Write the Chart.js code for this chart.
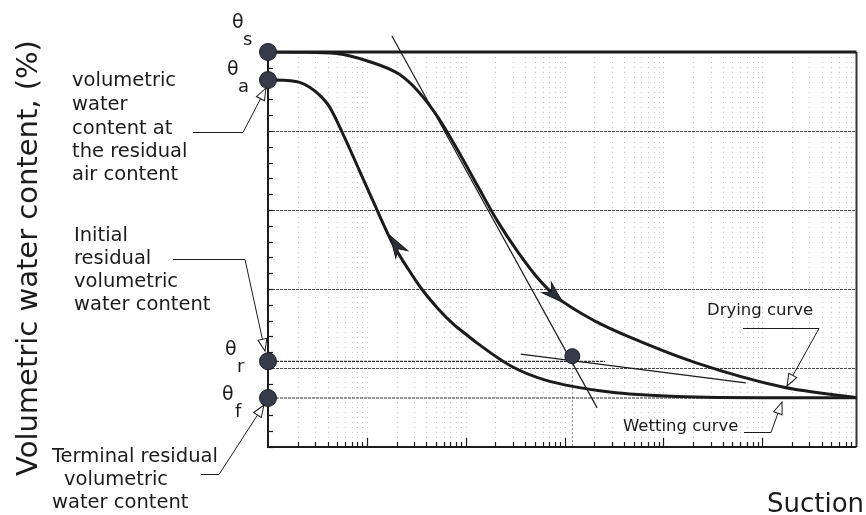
<!DOCTYPE html>
<html>
<head>
<meta charset="utf-8">
<script src="https://cdn.jsdelivr.net/npm/chart.js@4.4.0/dist/chart.umd.min.js"></script>
<style>
  body { margin: 0; background: #fff; }
  #wrap { width: 866px; height: 515px; }
</style>
</head>
<body>
<div id="wrap"><canvas id="swcc" width="866" height="515"></canvas></div>
<script>
// suction (log scale) vs volumetric water content (%)
const suctionDrying = [1, 2.09, 4.92, 10.5, 21.1, 33.5, 53.1, 84.3, 134, 212, 337, 535, 849, 2138, 4580, 21500, 161000, 900000];
const thetaDrying   = [100, 99.95, 99.6, 97.6, 94.4, 89.9, 83.3, 74.9, 65.8, 57.0, 49.4, 42.8, 37.8, 31.6, 27.8, 21.3, 15.2, 12.5];

const suctionWetting = [1, 1.55, 2.09, 2.64, 3.32, 4.19, 5.65, 8.37, 11.3, 17.9, 26.6, 35.9, 53.1, 75.1, 106, 134, 287, 629, 2884, 13600, 146000, 900000];
const thetaWetting   = [92.9, 92.8, 92.3, 91.1, 89.1, 86.1, 79.6, 70.1, 62.8, 51.9, 44.8, 40.0, 34.9, 31.1, 28.1, 26.1, 20.5, 17.0, 13.9, 12.8, 12.5, 12.5];

// characteristic water contents on the axis: theta_s, theta_a, theta_r, theta_f
const keyNames = ['s', 'a', 'r', 'f'];
const keyTheta = [100, 92.9, 21.7, 12.4];

// construction lines
const steepSuction = [17.9, 2140];
const steepTheta   = [104.1, 9.9];
const flatSuction  = [361, 68300];
const flatTheta    = [23.5, 16.25];
const inflectSuction = [1200];
const inflectTheta   = [23.0];
const residualLineSuction = [1, 2570];
const terminalLineSuction = [1, 900000];

// direction arrows on the curves: [tail, tip] in (suction, theta)
const dryArrow = [[560, 42.0], [960, 36.6]];
const wetArrow = [[25.5, 46.6], [17.2, 53.5]];

const xMin = 1, xMax = 900000;
const yTicks = [];
for (let v = 0; v <= 100; v += 4) yTicks.push(v);

const pts = (xs, ys) => xs.map((x, i) => ({ x: x, y: ys[i] }));
const ink = '#1b1b1b';
const font = '"DejaVu Sans", Verdana, sans-serif';

function arrowHead(ctx, fx, fy, tx, ty, len, half, filled) {
  const a = Math.atan2(ty - fy, tx - fx);
  ctx.save();
  ctx.translate(tx, ty);
  ctx.rotate(a);
  ctx.beginPath();
  ctx.moveTo(0, 0);
  ctx.lineTo(-len, -half);
  if (filled) ctx.lineTo(-len * 0.7, 0);
  ctx.lineTo(-len, half);
  ctx.closePath();
  if (filled) {
    ctx.fillStyle = '#2b2f3a';
    ctx.fill();
    ctx.lineWidth = 1;
    ctx.strokeStyle = ink;
    ctx.stroke();
  } else {
    ctx.fillStyle = '#fff';
    ctx.fill();
    ctx.lineWidth = 1;
    ctx.strokeStyle = ink;
    ctx.stroke();
  }
  ctx.restore();
}

const framePlugin = {
  id: 'frame',
  beforeDatasetsDraw(chart) {
    const { ctx, chartArea: ca, scales: { x, y } } = chart;
    ctx.save();
    // dotted vertical grid on every log step
    ctx.strokeStyle = '#c8c8c8';
    ctx.lineWidth = 1;
    ctx.setLineDash([1, 4]);
    for (let d = 0; d <= 6; d++) {
      for (let m = 1; m <= 9; m++) {
        const v = m * Math.pow(10, d);
        if (v <= xMin || v >= xMax) continue;
        const px = Math.round(x.getPixelForValue(v)) + 0.5;
        ctx.beginPath();
        ctx.moveTo(px, ca.top);
        ctx.lineTo(px, ca.bottom);
        ctx.stroke();
      }
    }
    // horizontal grid every 20 %
    ctx.strokeStyle = '#4a4a4a';
    ctx.setLineDash([3, 1]);
    yTicks.filter(v => v % 20 === 0 && v > 0 && v < 100).forEach(v => {
      const py = Math.round(y.getPixelForValue(v)) + 0.5;
      ctx.beginPath();
      ctx.moveTo(ca.left, py);
      ctx.lineTo(ca.right, py);
      ctx.stroke();
    });
    ctx.setLineDash([]);
    // inward ticks
    ctx.strokeStyle = ink;
    ctx.lineWidth = 1.2;
    yTicks.forEach(v => {
      const py = Math.round(y.getPixelForValue(v)) + 0.5;
      ctx.beginPath();
      ctx.moveTo(ca.left, py);
      ctx.lineTo(ca.left + 5, py);
      ctx.stroke();
    });
    for (let d = 0; d <= 6; d++) {
      for (let m = 1; m <= 9; m++) {
        const v = m * Math.pow(10, d);
        if (v <= xMin || v >= xMax) continue;
        const px = Math.round(x.getPixelForValue(v)) + 0.5;
        ctx.beginPath();
        ctx.moveTo(px, ca.bottom);
        ctx.lineTo(px, ca.bottom - (m === 1 ? 9 : 5));
        ctx.stroke();
      }
    }
    // frame
    ctx.lineWidth = 2;
    ctx.strokeStyle = '#333';
    ctx.beginPath();
    ctx.moveTo(ca.right, ca.top);
    ctx.lineTo(ca.right, ca.bottom);
    ctx.stroke();
    ctx.strokeStyle = ink;
    ctx.beginPath();
    ctx.moveTo(ca.left, ca.top);
    ctx.lineTo(ca.left, ca.bottom);
    ctx.lineTo(ca.right, ca.bottom);
    ctx.stroke();
    ctx.lineWidth = 3;
    ctx.beginPath();
    ctx.moveTo(ca.left, ca.top);
    ctx.lineTo(ca.right, ca.top);
    ctx.stroke();
    ctx.restore();
  },
  afterDatasetsDraw(chart) {
    const { ctx, scales: { x, y } } = chart;
    ctx.save();
    [dryArrow, wetArrow].forEach(a => {
      arrowHead(ctx, x.getPixelForValue(a[0][0]), y.getPixelForValue(a[0][1]),
        x.getPixelForValue(a[1][0]), y.getPixelForValue(a[1][1]), 22, 7, true);
    });

    // leader lines with open arrow heads
    const leaders = [
      [[193, 132], [243, 132], [266, 88]],
      [[173, 259], [245, 259], [265, 351]],
      [[201, 474], [219, 474], [264, 405]],
      [[743, 328], [819, 328], [787, 386]],
      [[744, 432], [771, 432], [782, 402]]
    ];
    ctx.strokeStyle = ink;
    ctx.lineWidth = 1;
    leaders.forEach(p => {
      ctx.beginPath();
      ctx.moveTo(p[0][0], p[0][1] + 0.5);
      ctx.lineTo(p[1][0], p[1][1] + 0.5);
      ctx.lineTo(p[2][0], p[2][1]);
      ctx.stroke();
      arrowHead(ctx, p[1][0], p[1][1], p[2][0], p[2][1], 12, 4.5, false);
    });

    ctx.fillStyle = ink;
    ctx.textBaseline = 'alphabetic';
    ctx.textAlign = 'left';
    ctx.font = '19.5px ' + font;
    const blocks = [
      { x: [72, 72, 72, 72, 72], y: [86, 110, 134, 157, 180],
        t: ['volumetric', 'water', 'content at', 'the residual', 'air content'] },
      { x: [74, 74, 74, 74], y: [241, 264, 287, 310],
        t: ['Initial', 'residual', 'volumetric', 'water content'] },
      { x: [52, 64, 52], y: [462, 485, 508],
        t: ['Terminal residual', 'volumetric', 'water content'] }
    ];
    blocks.forEach(b => b.t.forEach((s, i) => ctx.fillText(s, b.x[i], b.y[i])));

    ctx.font = '16.5px ' + font;
    ctx.fillText('Drying curve', 707, 315);
    ctx.fillText('Wetting curve', 623, 431);

    ctx.font = '26px ' + font;
    ctx.fillText('Suction', 767, 512);

    // theta symbols
    const thetaPos = [[232, 28, 243, 45], [227, 75, 238, 92], [225, 355, 237, 372], [222, 400, 235, 417]];
    keyNames.forEach((n, i) => {
      const p = thetaPos[i];
      ctx.font = '19px ' + font;
      ctx.fillText('\u03b8', p[0], p[1]);
      ctx.font = '18px ' + font;
      ctx.fillText(n, p[2], p[3]);
    });

    // y title
    ctx.save();
    ctx.translate(37, 258);
    ctx.rotate(-Math.PI / 2);
    ctx.textAlign = 'center';
    ctx.font = '29px ' + font;
    ctx.fillText('Volumetric water content, (%)', 0, 0);
    ctx.restore();
    ctx.restore();
  }
};

const thinLine = { borderColor: ink, borderWidth: 1.2, pointRadius: 0, fill: false };

new Chart(document.getElementById('swcc'), {
  type: 'line',
  data: {
    datasets: [
      {
        label: 'key points',
        data: pts(keyTheta.map(() => xMin), keyTheta),
        showLine: false,
        pointRadius: 8.5,
        pointBackgroundColor: '#363b4a',
        pointBorderColor: '#1c1f27',
        pointBorderWidth: 1,
        clip: false
      },
      {
        label: 'inflection',
        data: pts(inflectSuction, inflectTheta),
        showLine: false,
        pointRadius: 7.5,
        pointBackgroundColor: '#363b4a',
        pointBorderColor: '#1c1f27',
        pointBorderWidth: 1
      },
      {
        label: 'Drying curve',
        data: pts(suctionDrying, thetaDrying),
        borderColor: ink,
        borderWidth: 3,
        pointRadius: 0,
        cubicInterpolationMode: 'monotone'
      },
      {
        label: 'Wetting curve',
        data: pts(suctionWetting, thetaWetting),
        borderColor: ink,
        borderWidth: 3,
        pointRadius: 0,
        cubicInterpolationMode: 'monotone'
      },
      Object.assign({ label: 'steep tangent', data: pts(steepSuction, steepTheta), clip: false }, thinLine),
      Object.assign({ label: 'residual tangent', data: pts(flatSuction, flatTheta) }, thinLine),
      Object.assign({ label: 'theta r', data: pts(residualLineSuction, [keyTheta[2], keyTheta[2]]),
        borderDash: [3, 1], borderColor: '#333' }, { borderWidth: 1.2, pointRadius: 0 }),
      Object.assign({ label: 'theta f', data: pts(terminalLineSuction, [keyTheta[3], keyTheta[3]]),
        borderDash: [3, 1], borderColor: '#333' }, { borderWidth: 1.2, pointRadius: 0 }),
      Object.assign({ label: 'drop', data: pts([inflectSuction[0], inflectSuction[0]], [inflectTheta[0], 0]),
        borderDash: [2, 2], borderColor: '#888' }, { borderWidth: 1, pointRadius: 0 })
    ]
  },
  options: {
    responsive: false,
    animation: false,
    layout: { padding: { left: 268, right: 4, top: 52, bottom: 68 } },
    plugins: { legend: { display: false }, tooltip: { enabled: false } },
    scales: {
      x: { type: 'logarithmic', min: xMin, max: xMax, display: false },
      y: { type: 'linear', min: 0, max: 100, display: false }
    }
  },
  plugins: [framePlugin]
});
</script>
</body>
</html>
